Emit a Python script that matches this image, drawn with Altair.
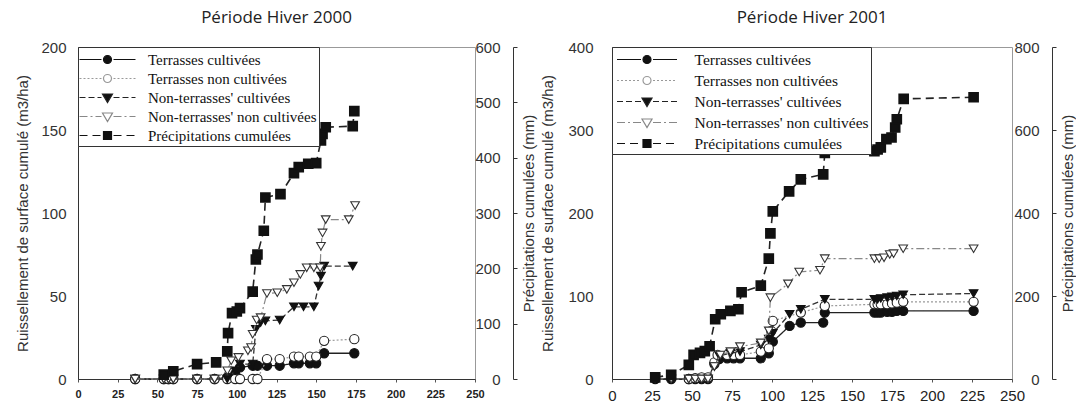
import altair as alt
import pandas as pd

SERIES = [
    "Terrasses cultivées",
    "Terrasses non cultivées",
    "Non-terrasses' cultivées",
    "Non-terrasses' non cultivées",
    "Précipitations cumulées",
]
X_TICKS = [0, 25, 50, 75, 100, 125, 150, 175, 200, 225, 250]

# ---------------- Période Hiver 2000 ----------------
tc00_x = [36, 54, 57, 60, 75, 86, 94, 99, 102, 110, 113, 119, 127, 136, 139, 146, 150, 155, 174]
tc00_y = [0, 0, 0, 0, 0, 0, 1, 3, 7, 8, 8, 8, 8, 9.5, 9.5, 9.5, 9.5, 15.5, 15.5]
tnc00_x = [36, 54, 57, 60, 75, 86, 94, 99, 102, 110, 113, 119, 127, 136, 139, 146, 150, 155, 174]
tnc00_y = [0, 0, 0, 0, 0, 0, 0, 0, 0, 0, 0, 12, 12, 13.5, 13.5, 13.5, 13.5, 23, 24]
ntc00_x = [36, 54, 57, 60, 75, 86, 94, 99, 102, 110, 112, 115, 118, 127, 136, 142, 148.5, 151.5, 153, 155, 173]
ntc00_y = [0, 0, 0, 0, 0, 0, 0, 5, 9, 9, 30, 34, 35, 35.5, 43.5, 43.5, 43.5, 56, 62, 68, 68]
ntnc00_x = [36, 54, 57, 60, 75, 86, 94, 96.5, 101, 107, 109, 110, 112.5, 115, 119, 125.5, 131.5,
            136, 140, 144, 148.5, 152.5, 153, 154, 156, 170.5, 174.5]
ntnc00_y = [0, 0, 0, 0, 0, 0, 5, 11, 13, 17, 19, 27, 35.5, 37, 51.5, 52, 54,
            58, 63, 67, 67, 67, 80, 88, 96, 96, 104.5]
pr00_x = [54, 60, 75, 87, 94, 94.5, 97, 100, 102, 110, 112, 113, 117, 118, 127.5, 136, 139, 145,
          150, 153, 154, 156, 173, 174]
pr00_y = [8, 14, 27, 30, 50, 83, 119, 122, 128, 158, 216, 225, 268, 328, 334, 372, 383, 389,
          390, 431, 443, 455, 457, 484]

# ---------------- Période Hiver 2001 ----------------
tc01_x = [27, 37, 48, 52, 56, 60, 64, 67, 72, 76, 80, 93, 98, 100.5, 111, 118, 132, 133,
          164, 166, 168, 172, 175, 178, 182, 226]
tc01_y = [0, 0, 0, 0, 0, 0, 18, 24, 25, 25, 25, 25, 31, 45, 64, 68, 68, 80,
          80, 80, 80, 81, 81, 82, 82, 82]
tnc01_x = [48, 52, 56, 60, 64, 66, 72, 76, 80, 93, 98, 99.5, 100.5, 118, 133,
           164, 166, 168, 172, 175, 178, 182, 226]
tnc01_y = [0, 1, 2, 2, 20, 29, 29, 29, 29, 33, 37, 58, 70, 80, 88,
           90, 90, 90, 90, 91, 92, 93, 93]
ntc01_x = [27, 37, 48, 52, 56, 60, 64, 67, 74, 80, 93, 98, 100.5, 111, 118, 133,
           164, 166, 168, 172, 175, 178, 182, 226]
ntc01_y = [0, 0, 0, 0, 0, 0, 15, 28, 31, 33, 41, 48, 55, 78, 84, 96,
           96, 96, 97, 98, 99, 100, 101.5, 103]
ntnc01_x = [27, 37, 48, 52, 56, 60, 64, 67.7, 74, 80, 93, 98, 99, 110, 117, 130, 133,
            164, 167, 170, 173.6, 176, 182, 226]
ntnc01_y = [0, 0, 0, 0, 0, 0, 15, 29, 33, 39, 43.5, 58, 98, 114.6, 129, 131, 145,
            145, 145, 146, 150, 151, 157, 157]
pr01_x = [27, 37, 48, 51, 55, 58, 61, 64.5, 68, 74, 79, 81, 93, 98, 99, 100.5, 110.7, 118, 132, 133,
          164, 166, 168, 171.5, 174.7, 177, 178, 182.3, 226]
pr01_y = [4, 10, 34, 58, 63, 67, 79, 144, 156, 164, 168, 209, 225, 290, 351, 404, 452, 481, 493, 545,
          549, 553, 558, 578, 582, 606, 626, 675, 679]

DATA = {
    "2000": [(tc00_x, tc00_y), (tnc00_x, tnc00_y), (ntc00_x, ntc00_y), (ntnc00_x, ntnc00_y), (pr00_x, pr00_y)],
    "2001": [(tc01_x, tc01_y), (tnc01_x, tnc01_y), (ntc01_x, ntc01_y), (ntnc01_x, ntnc01_y), (pr01_x, pr01_y)],
}

rows = []
for year, lst in DATA.items():
    for name, (xs, ys) in zip(SERIES, lst):
        for xv, yv in zip(xs, ys):
            rows.append({"panel": year, "serie": name, "x": xv, "y": yv})
df = pd.DataFrame(rows)

# ---------------- styles ----------------
STYLE = {
    SERIES[0]: dict(shape="circle", fill="#111", stroke="#111", line="#222", dash=[1, 0], lw=1.3, size=85),
    SERIES[1]: dict(shape="circle", fill="white", stroke="#222", line="#999", dash=[2, 2], lw=1.2, size=85),
    SERIES[2]: dict(shape="triangle-down", fill="#111", stroke="#111", line="#333", dash=[6, 3], lw=1.3, size=75),
    SERIES[3]: dict(shape="triangle-down", fill="white", stroke="#333", line="#888", dash=[8, 3, 2, 3], lw=1.2, size=75),
    SERIES[4]: dict(shape="square", fill="#111", stroke="#111", line="#222", dash=[8, 5], lw=1.6, size=75),
}

U = 9.5  # px per unit of legend symbol path (sqrt(361)/2)


def f(v):
    return f"{v / U:.3f}"


def dashed(dash, a, b):
    out = []
    if dash[1] == 0:
        return f"M{f(a)},0H{f(b)}"
    pos, i = a, 0
    while pos < b:
        ln = dash[i % len(dash)]
        end = min(pos + ln, b)
        if i % 2 == 0:
            out.append(f"M{f(pos)},0H{f(end)}")
        pos = end
        i += 1
    return "".join(out)


def marker(shape):
    if shape == "circle":
        r = 4
        return f"M{f(-r)},0A{f(r)},{f(r)} 0 1,0 {f(r)},0A{f(r)},{f(r)} 0 1,0 {f(-r)},0Z"
    if shape == "triangle-down":
        return f"M{f(-5)},{f(-3.5)}L{f(5)},{f(-3.5)}L0,{f(5)}Z"
    return f"M{f(-4)},{f(-4)}H{f(4)}V{f(4)}H{f(-4)}Z"


def paths(half):
    return [dashed(STYLE[s]["dash"], -half, -6) + dashed(STYLE[s]["dash"], 6, half) + marker(STYLE[s]["shape"])
            for s in SERIES]


LEG_FILL = ["#111", "white", "#111", "white", "#111"]
LEG_STROKE = ["#111", "#999", "#222", "#888", "#111"]
LEG_FILL_EXPR = "datum.index % 2 == 0 ? '#111' : 'white'"

FONT = "Liberation Sans"


def panel(year, title, ymax, ystep, pmax, pstep, w, h, xlab_size, xlab_weight, ylab_pad,
          ytitle_pad, poffset, leg_font, sym_off, lab_off, half, row_pad):
    d = df[df["panel"] == year]
    xenc = alt.X("x:Q", scale=alt.Scale(domain=[0, 250], nice=False),
                 axis=alt.Axis(values=X_TICKS, title=None, grid=False, labelFontSize=xlab_size,
                               labelFontWeight=xlab_weight, labelColor="#222", labelFont=FONT,
                               tickSize=3, tickColor="#555", domainColor="#333", labelPadding=6,
                               labelFlush=False))
    yR = alt.Y("y:Q", scale=alt.Scale(domain=[0, ymax], nice=False),
               axis=alt.Axis(values=list(range(0, ymax + 1, ystep)), grid=False, ticks=False,
                             labelFontSize=15, labelColor="#333", labelFont=FONT,
                             labelPadding=ylab_pad, domainColor="#333",
                             title="Ruissellement de surface cumulé (m3/ha)", titleFont=FONT,
                             titleFontSize=15, titleFontWeight="normal", titleColor="#333",
                             titlePadding=ytitle_pad))
    yP = alt.Y("y:Q", scale=alt.Scale(domain=[0, pmax], nice=False),
               axis=alt.Axis(orient="right", values=list(range(0, pmax + 1, pstep)), grid=False,
                             offset=poffset, tickSize=4, tickColor="#333", domainColor="#333",
                             labelAlign="right", labelPadding=-17, labelFontSize=15,
                             labelColor="#333", labelFont=FONT,
                             title="Précipitations cumulées (mm)", titleFont=FONT, titleFontSize=15,
                             titleFontWeight="normal", titleColor="#333", titleAngle=270,
                             titleBaseline="top", titlePadding=4))
    r_layers = []
    for s in SERIES[:4]:
        st = STYLE[s]
        b = alt.Chart(d).transform_filter(alt.datum.serie == s)
        r_layers.append(b.mark_line(stroke=st["line"], strokeDash=st["dash"], strokeWidth=st["lw"])
                        .encode(x=xenc, y=yR))
        r_layers.append(b.mark_point(shape=st["shape"], size=st["size"], fill=st["fill"],
                                     stroke=st["stroke"], strokeWidth=1.1, opacity=1, fillOpacity=1)
                        .encode(x=xenc, y=yR))
    LEG = alt.Legend(title=None, orient="top-left", offset=0, padding=2, strokeColor="#333",
                     fillColor="white", symbolSize=361, symbolOffset=sym_off, labelOffset=lab_off,
                     labelFont="Liberation Serif", labelFontSize=leg_font, labelColor="#111",
                     rowPadding=row_pad, symbolStrokeWidth=1.2, labelLimit=400,
                     symbolFillColor={"expr": LEG_FILL_EXPR}, symbolOpacity=1)
    leg = (alt.Chart(d)
           .transform_filter(alt.FieldOneOfPredicate(field="serie", oneOf=SERIES[:4]))
           .mark_point(opacity=0, filled=True)
           .encode(x=xenc, y=yR,
                   shape=alt.Shape("serie:N", scale=alt.Scale(domain=SERIES, range=paths(half)), legend=LEG),
                   fill=alt.Fill("serie:N", scale=alt.Scale(domain=SERIES, range=LEG_FILL), legend=LEG),
                   stroke=alt.Stroke("serie:N", scale=alt.Scale(domain=SERIES, range=LEG_STROKE), legend=LEG)))
    r_layers.append(leg)
    st = STYLE[SERIES[4]]
    bp = alt.Chart(d).transform_filter(alt.datum.serie == SERIES[4])
    p_line = bp.mark_line(stroke=st["line"], strokeDash=st["dash"], strokeWidth=st["lw"]).encode(x=xenc, y=yP)
    p_pts = bp.mark_point(shape="square", size=st["size"], fill=st["fill"], stroke=st["stroke"],
                          opacity=1, fillOpacity=1).encode(x=xenc, y=yP)
    runoff = alt.layer(*r_layers)
    precip = alt.layer(p_line, p_pts)
    return (alt.layer(runoff, precip)
            .resolve_scale(y="independent")
            .properties(width=w, height=h,
                        title=alt.TitleParams(title, font="Open Sans", fontSize=17, fontWeight="normal",
                                              color="#222", anchor="middle", frame="group", offset=13)))


left = panel("2000", "Période Hiver 2000", 200, 50, 600, 100, 397, 332, 11, "bold", 12, 10, 38,
             15, 17, 30, 28, 0)
right = panel("2001", "Période Hiver 2001", 400, 100, 800, 200, 400, 332, 15, "normal", 19, 12, 40,
              15.5, 22.5, 37, 30, 2)

chart = (alt.hconcat(left, right, spacing=3)
         .resolve_scale(shape="independent", fill="independent", stroke="independent")
         .resolve_legend(shape="independent", fill="independent", stroke="independent")
         .properties(padding={"left": 15, "top": 8, "right": 0, "bottom": 0})
         .configure_view(stroke="#999", strokeWidth=1))

chart.save("out.html", embed_options={"renderer": "svg", "actions": False})
